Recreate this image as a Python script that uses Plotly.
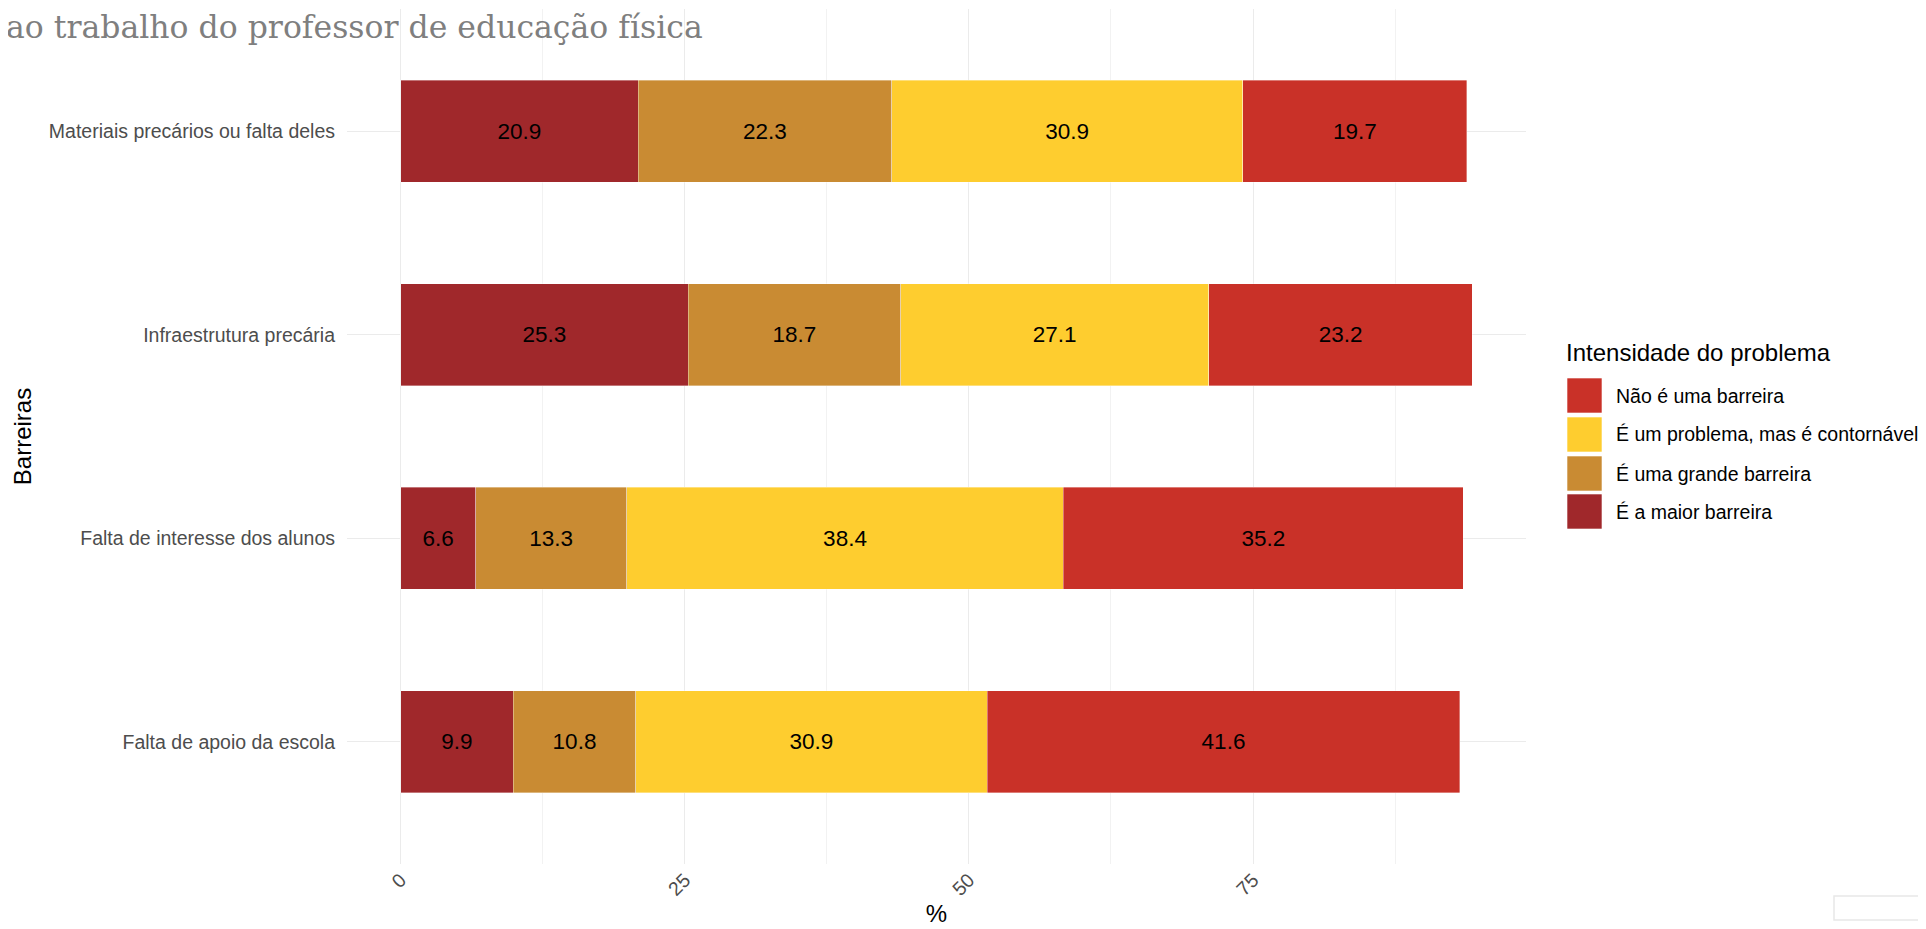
import plotly.graph_objects as go

# Data (bottom-to-top order as drawn)
barreiras = [
    "Falta de apoio da escola",
    "Falta de interesse dos alunos",
    "Infraestrutura precária",
    "Materiais precários ou falta deles",
]
maior_barreira = [9.9, 6.6, 25.3, 20.9]
grande_barreira = [10.8, 13.3, 18.7, 22.3]
contornavel = [30.9, 38.4, 27.1, 30.9]
nao_barreira = [41.6, 35.2, 23.2, 19.7]

series_names = [
    "É a maior barreira",
    "É uma grande barreira",
    "É um problema, mas é contornável",
    "Não é uma barreira",
]
series_values = [maior_barreira, grande_barreira, contornavel, nao_barreira]
series_colors = ["#A0282B", "#C98B33", "#FECD2F", "#C93128"]

FONT = "Liberation Sans, Arial, sans-serif"
OFF = 8  # page body margin in the browser
W, H = 1926 - OFF, 929 - OFF
# plot panel, in reference pixels
L, R, T, B = 347 - OFF, 1526 - OFF, 9 - OFF, 864 - OFF


def px_x(px):
    return (px - OFF - L) / (R - L)


def px_y(py):
    return (B - (py - OFF)) / (B - T)


fig = go.Figure()

for name, vals, color in zip(series_names, series_values, series_colors):
    fig.add_trace(go.Bar(
        y=barreiras,
        x=vals,
        orientation="h",
        name=name,
        width=0.5,
        marker=dict(color=color, line=dict(color="rgba(255,255,255,0.6)", width=0.6)),
        text=[f"{v:.1f}" for v in vals],
        textposition="inside",
        insidetextanchor="middle",
        textangle=0,
        constraintext="none",
        textfont=dict(family=FONT, size=22.5, color="black"),
        showlegend=False,
    ))

# Custom legend (ggplot style, large keys)
shapes = []
annotations = [dict(
    text="Intensidade do problema", xref="paper", yref="paper",
    x=px_x(1564), y=px_y(353), xanchor="left", yanchor="middle",
    showarrow=False, font=dict(family=FONT, size=24, color="black"),
)]
key_tops = [378, 417, 456, 494]
legend_order = list(reversed(range(len(series_names))))
for top, idx in zip(key_tops, legend_order):
    shapes.append(dict(
        type="rect", xref="paper", yref="paper",
        x0=px_x(1567), x1=px_x(1602), y0=px_y(top), y1=px_y(top + 35),
        fillcolor=series_colors[idx], line=dict(color="white", width=0.6),
    ))
    annotations.append(dict(
        text=series_names[idx], xref="paper", yref="paper",
        x=px_x(1614), y=px_y(top + 17.5), xanchor="left", yanchor="middle",
        showarrow=False, font=dict(family=FONT, size=19.5, color="black"),
    ))

# Title (first line falls outside the view)
annotations.append(dict(
    text="ao trabalho do professor de educação física",
    xref="paper", yref="paper", x=px_x(4), y=px_y(27),
    xanchor="left", yanchor="middle", showarrow=False,
    font=dict(family="DejaVu Serif, Georgia, serif", size=31.5, color="#7F7F7F"),
))

# faint mark in lower-right corner
shapes.append(dict(
    type="rect", xref="paper", yref="paper",
    x0=px_x(1834), x1=px_x(1935), y0=px_y(896), y1=px_y(920),
    line=dict(color="#E8E8E8", width=1.5), fillcolor="rgba(0,0,0,0)",
))

fig.update_layout(
    width=W, height=H,
    barmode="stack",
    plot_bgcolor="white",
    paper_bgcolor="white",
    margin=dict(l=L, r=W - R, t=T, b=H - B, autoexpand=False),
    showlegend=False,
    shapes=shapes,
    annotations=annotations,
    font=dict(family=FONT),
    xaxis=dict(
        range=[-4.715, 99.015],
        tickvals=[0, 25, 50, 75],
        ticktext=["0", "25", "50", "75"],
        tickangle=-45,
        tickfont=dict(family=FONT, size=19.5, color="#4D4D4D"),
        showgrid=True, gridcolor="#EBEBEB", gridwidth=1.3,
        minor=dict(tickvals=[12.5, 37.5, 62.5, 87.5], showgrid=True,
                   gridcolor="#F2F2F2", gridwidth=1),
        zeroline=False, showline=False, ticks="",
        title=dict(text="%", font=dict(family=FONT, size=24, color="black"), standoff=6),
    ),
    yaxis=dict(
        categoryorder="array", categoryarray=barreiras,
        range=[-0.6, 3.6],
        tickfont=dict(family=FONT, size=19.5, color="#4D4D4D"),
        showgrid=True, gridcolor="#EBEBEB", gridwidth=1.3,
        zeroline=False, showline=False, ticks="",
        ticklabelstandoff=11,
        title=dict(text="Barreiras", font=dict(family=FONT, size=24, color="black"), standoff=10),
    ),
)

fig.write_html("out.html")
